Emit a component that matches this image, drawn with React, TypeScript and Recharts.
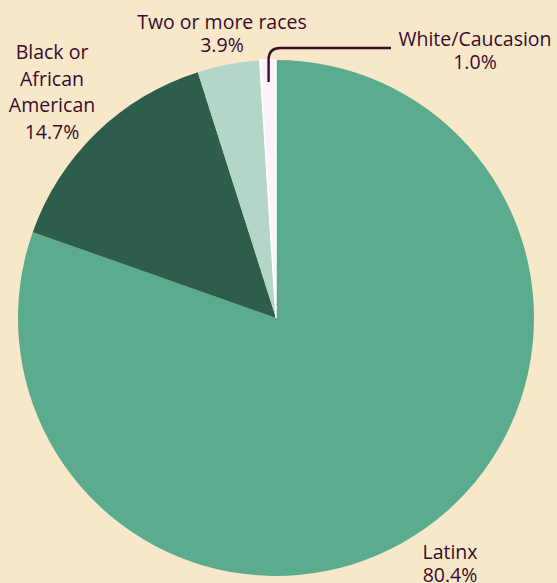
import React from "react";
import { PieChart, Pie, Cell } from "recharts";

const categories = ["Latinx", "Black or African American", "Two or more races", "White/Caucasion"];
const values = [80.4, 14.7, 3.9, 1.0];
const labelLines = [
  ["Latinx", "80.4%"],
  ["Black or", "African", "American", "14.7%"],
  ["Two or more races", "3.9%"],
  ["White/Caucasion", "1.0%"],
];

const colors = ["#5BAC8E", "#2D5E4C", "#B3D6C8", "#FDF1FA"];
const labelPos = [
  { x: 450, y: 551 },
  { x: 52, y: 51 },
  { x: 222, y: 21 },
  { x: 475, y: 38 },
];
const TEXT = "#3A0B2C";

const data = categories.map((name, i) => ({ name, value: values[i] }));

const renderLabel = (props: any) => {
  const { index, cx, cy, midAngle } = props;
  const pos = labelPos[index];
  const lines = labelLines[index];
  const gap = index === 1 ? 26.5 : 23;
  let leader = null;
  if (index === 3) {
    const RAD = Math.PI / 180;
    const r0 = 236;
    const sx = cx + r0 * Math.cos(-midAngle * RAD);
    const sy = cy + r0 * Math.sin(-midAngle * RAD);
    const topY = 48;
    const endX = 391;
    leader = (
      <path
        d={`M${sx},${sy} L${sx},${topY + 12} Q${sx},${topY} ${sx + 12},${topY} L${endX},${topY}`}
        stroke={TEXT}
        strokeWidth={2.4}
        fill="none"
      />
    );
  }
  return (
    <g key={`lbl-${index}`}>
      {leader}
      <text
        x={pos.x}
        y={pos.y}
        textAnchor="middle"
        dominantBaseline="central"
        fill={TEXT}
        fontSize={19.5}
        fontWeight={500}
        fontFamily="'Open Sans', sans-serif"
      >
        {lines.map((l, j) => (
          <tspan key={j} x={pos.x} y={pos.y + j * gap}>
            {l}
          </tspan>
        ))}
      </text>
    </g>
  );
};

export default function App() {
  return (
    <div style={{ position: "absolute", left: 0, top: 0, width: 557, height: 583, background: "#F7E8CA" }}>
      <PieChart width={557} height={583} margin={{ top: 0, right: 0, bottom: 0, left: 0 }}>
        <Pie
          data={data}
          dataKey="value"
          nameKey="name"
          cx={276}
          cy={318}
          outerRadius={258}
          startAngle={90}
          endAngle={-270}
          stroke="none"
          isAnimationActive={false}
          labelLine={false}
          label={renderLabel}
        >
          {data.map((d, i) => (
            <Cell key={d.name} fill={colors[i]} stroke={i === 3 ? "#FFFFFF" : "none"} strokeWidth={i === 3 ? 1.5 : 0} />
          ))}
        </Pie>
      </PieChart>
    </div>
  );
}
